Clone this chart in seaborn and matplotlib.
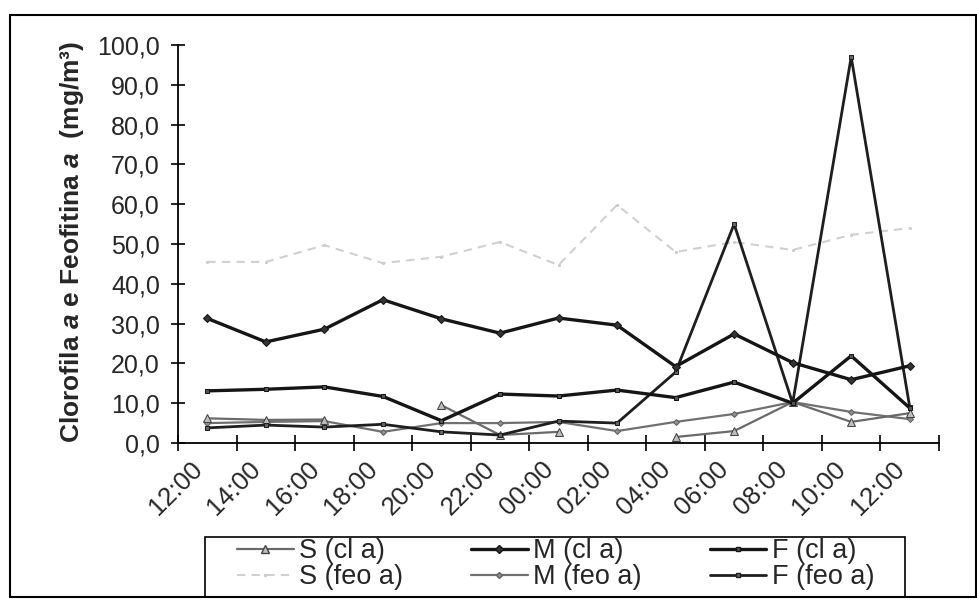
import numpy as np
import matplotlib
matplotlib.use("Agg")
import matplotlib.pyplot as plt
import matplotlib.transforms as mtransforms
import seaborn as sns
from matplotlib.patches import Rectangle
from matplotlib.lines import Line2D

nan = np.nan

# Sampling times (2-hour interval, 24 h cycle)
horas = ["12:00", "14:00", "16:00", "18:00", "20:00", "22:00", "00:00",
         "02:00", "04:00", "06:00", "08:00", "10:00", "12:00"]

# Chlorophyll a and pheophytin a (mg/m3) at surface (S), middle (M), bottom (F)
s_cla = [6.2, 5.8, 5.9, nan, 9.5, 2.0, 2.8, nan, 1.5, 3.0, 10.3, 5.3, 7.5]
m_cla = [31.3, 25.4, 28.6, 36.0, 31.2, 27.6, 31.4, 29.6, 19.2, 27.4, 20.2, 15.9, 19.4]
f_cla = [13.1, 13.5, 14.1, 11.7, 5.6, 12.3, 11.8, 13.3, 11.4, 15.3, 10.0, 21.9, 8.8]
s_feo = [45.5, 45.5, 49.7, 45.2, 46.8, 50.5, 44.7, 59.8, 48.0, 50.5, 48.5, 52.3, 54.0]
m_feo = [5.0, 5.3, 5.5, 2.8, 5.0, 5.0, 5.3, 3.0, 5.3, 7.3, 10.3, 7.8, 6.0]
f_feo = [3.8, 4.5, 4.0, 4.7, 2.8, 2.0, 5.5, 5.0, 17.8, 55.0, 10.0, 97.0, 9.0]

y_ticks = list(range(0, 101, 10))

sns.set_theme(style="white")
plt.rcParams["font.family"] = ["Liberation Sans", "DejaVu Sans"]
plt.rcParams["mathtext.fontset"] = "custom"
plt.rcParams["mathtext.rm"] = "Liberation Sans:bold"
plt.rcParams["mathtext.bf"] = "Liberation Sans:bold"
plt.rcParams["mathtext.bfit"] = "Liberation Sans:bold:italic"

fig = plt.figure(figsize=(9.77, 6.0), dpi=100)
ax = fig.add_axes([178 / 977, 157 / 600, 761 / 977, 398 / 600])

styles = {
    "S (cl a)": dict(color="#6a6a6a", linewidth=1.6, marker="^", markersize=6,
                     markerfacecolor="#bdbdbd", markeredgecolor="#444444"),
    "M (cl a)": dict(color="#151515", linewidth=2.4, marker="D", markersize=4.5,
                     markerfacecolor="#333333", markeredgecolor="#151515"),
    "F (cl a)": dict(color="#151515", linewidth=2.4, marker="s", markersize=3.5,
                     markerfacecolor="#555555", markeredgecolor="#151515"),
    "S (feo a)": dict(color="#d0d0d0", linewidth=1.5, linestyle=(0, (4, 3)),
                      marker=".", markersize=3, markeredgecolor="#cccccc"),
    "M (feo a)": dict(color="#707070", linewidth=1.6, marker="D", markersize=3,
                      markerfacecolor="#909090", markeredgecolor="#606060"),
    "F (feo a)": dict(color="#1e1e1e", linewidth=2.0, marker="s", markersize=3,
                      markerfacecolor="#666666", markeredgecolor="#1e1e1e"),
}
series = {
    "S (cl a)": s_cla, "M (cl a)": m_cla, "F (cl a)": f_cla,
    "S (feo a)": s_feo, "M (feo a)": m_feo, "F (feo a)": f_feo,
}


def draw(values, style):
    """Plot a series, leaving gaps where a sample is missing."""
    y = np.asarray(values, float)
    x = np.arange(len(y))
    ok = ~np.isnan(y)
    runs = np.split(x, np.where(np.diff(ok.astype(int)) != 0)[0] + 1)
    for r in runs:
        if ok[r[0]]:
            sns.lineplot(x=x[r], y=y[r], ax=ax, **style)


for name in ["S (feo a)", "M (feo a)", "S (cl a)", "F (feo a)", "F (cl a)", "M (cl a)"]:
    draw(series[name], styles[name])

ax.set_xlim(-0.5, len(horas) - 0.5)
ax.set_ylim(0, 100)
ax.set_xticks(range(len(horas)))
ax.set_xticklabels(horas, rotation=45, ha="right", va="center",
                   rotation_mode="anchor", fontsize=18.5)
ax.set_xticks(np.arange(-0.5, len(horas), 1.0), minor=True)
ax.tick_params(axis="x", which="major", length=0, pad=16)
ax.tick_params(axis="x", which="minor", direction="inout", length=11,
               width=1.2, color="black", bottom=True)
ax.set_yticks(y_ticks)
ax.set_yticklabels([f"{v:.1f}".replace(".", ",") for v in y_ticks], fontsize=18)
ax.tick_params(axis="y", direction="inout", length=10, width=1.2,
               color="black", pad=8, left=True)
offset = mtransforms.ScaledTranslation(-9 / 100, 0, fig.dpi_scale_trans)
for lab in ax.get_xticklabels():
    lab.set_transform(lab.get_transform() + offset)

for side in ["top", "right"]:
    ax.spines[side].set_visible(False)
for side in ["left", "bottom"]:
    ax.spines[side].set_color("black")
    ax.spines[side].set_linewidth(1.3)
ax.set_xlabel("")
ax.set_ylabel("")

fig.text(72 / 977, 1 - 242 / 600,
         r"Clorofila $\mathbfit{a}$ e Feofitina $\mathbfit{a}$  (mg/m³)",
         rotation=90, ha="center", va="center", fontsize=19, fontweight="bold")

# Legend: three columns, two rows, inside a plain box below the axis
order = ["S (cl a)", "S (feo a)", "M (cl a)", "M (feo a)", "F (cl a)", "F (feo a)"]
handles = [Line2D([], [], **styles[n]) for n in order]
fig.legend(handles, order, loc="upper left",
           bbox_to_anchor=(237 / 977, 1 - 538 / 600), ncol=3,
           fontsize=19.5, frameon=False, handlelength=2.1, handletextpad=0.2,
           columnspacing=2.5, labelspacing=0.0, borderpad=0.0,
           borderaxespad=0)
fig.add_artist(Rectangle((205 / 977, 3 / 600), 700 / 977, 60 / 600,
                         transform=fig.transFigure, fill=False,
                         edgecolor="black", linewidth=1.2))

fig.add_artist(Rectangle((10 / 977, 3 / 600), 966 / 977, 582 / 600,
                         transform=fig.transFigure, fill=False,
                         edgecolor="black", linewidth=1.5))

fig.savefig("out.png", dpi=100)
